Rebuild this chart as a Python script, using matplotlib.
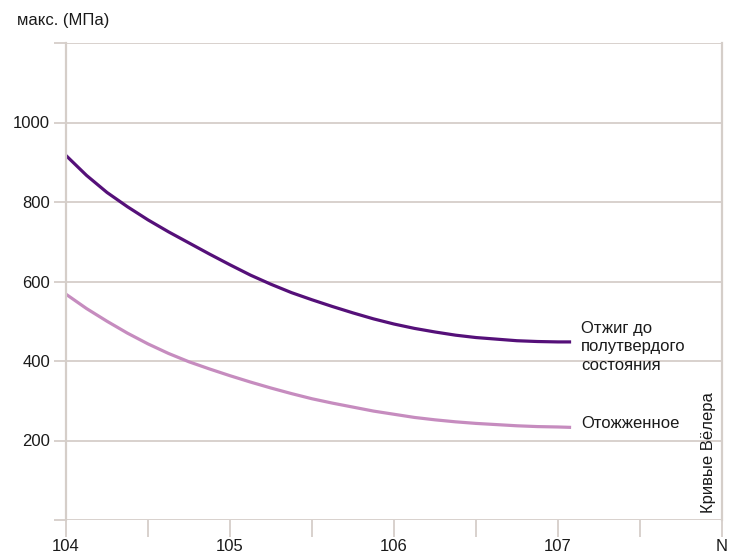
import matplotlib
matplotlib.use("Agg")
import matplotlib.pyplot as plt

plt.rcParams['font.family'] = ['Liberation Sans', 'DejaVu Sans']
plt.rcParams['font.size'] = 12

# log10 of cycle count and max stress, MPa
log_n = [4.0, 4.125, 4.25, 4.375, 4.5, 4.625, 4.75, 4.875, 5.0, 5.125, 5.25, 5.375,
         5.5, 5.625, 5.75, 5.875, 6.0, 6.125, 6.25, 6.375, 6.5, 6.625, 6.75, 6.875,
         7.0, 7.08]
half_hard = [917, 867, 824, 788, 755, 725, 697, 669, 642, 616, 593, 572,
             554, 537, 521, 506, 493, 482, 473, 465, 459, 455, 451, 449,
             448, 448]
annealed = [568, 532, 500, 470, 443, 419, 398, 380, 363, 347, 332, 318,
            305, 294, 284, 274, 266, 258, 252, 247, 243, 240, 237, 235,
            234, 233]

x_ticks = [4, 5, 6, 7, 8]
x_labels = ["104", "105", "106", "107", "N"]
x_minor = [4.5, 5.5, 6.5, 7.5]
y_ticks = [0, 200, 400, 600, 800, 1000, 1200]
y_labels = ["", "200", "400", "600", "800", "1000", ""]

grid_col = "#d5cec9"
dark_col = "#551079"
light_col = "#c68cbf"
text_col = "#1a1a1a"

fig = plt.figure(figsize=(7.39, 5.56), dpi=100)
ax = fig.add_axes([66 / 739, 36 / 556, 656 / 739, 477 / 556])

ax.plot(log_n, half_hard, color=dark_col, lw=2.3, solid_capstyle='butt')
ax.plot(log_n, annealed, color=light_col, lw=2.3, solid_capstyle='butt')

ax.set_xlim(4, 8)
ax.set_ylim(0, 1200)

ax.set_xticks(x_ticks)
ax.set_xticklabels(x_labels)
ax.set_xticks(x_minor, minor=True)
ax.set_yticks(y_ticks)
ax.set_yticklabels(y_labels)

ax.tick_params(axis='x', which='both', direction='out', length=12.5, width=1.3,
               color=grid_col, pad=1.2, labelcolor=text_col)
ax.tick_params(axis='y', direction='out', length=8.6, width=1.3,
               color=grid_col, pad=3, labelcolor=text_col)

ax.grid(axis='y', color=grid_col, lw=1.3)
ax.set_axisbelow(True)
for side in ['top', 'bottom']:
    ax.spines[side].set_visible(False)
for side in ['left', 'right']:
    ax.spines[side].set_color(grid_col)
    ax.spines[side].set_linewidth(1.6)

ax.annotate("Отжиг до\nполутвердого\nсостояния", xy=(log_n[-1], half_hard[-1]),
            xytext=(7, -3.5), textcoords='offset points', va='center', ha='left',
            color=text_col, linespacing=1.28)
ax.annotate("Отожженное", xy=(log_n[-1], annealed[-1]),
            xytext=(7, 3), textcoords='offset points', va='center', ha='left',
            color=text_col)

ax.text(0.979, 0.015, "Кривые Вёлера", transform=ax.transAxes, rotation=90,
        ha='center', va='bottom', color=text_col)

fig.text(17 / 739, 1 - 21 / 556, "макс. (МПа)", va='center', ha='left', color=text_col)

fig.savefig("out.png", dpi=100, facecolor='white')
